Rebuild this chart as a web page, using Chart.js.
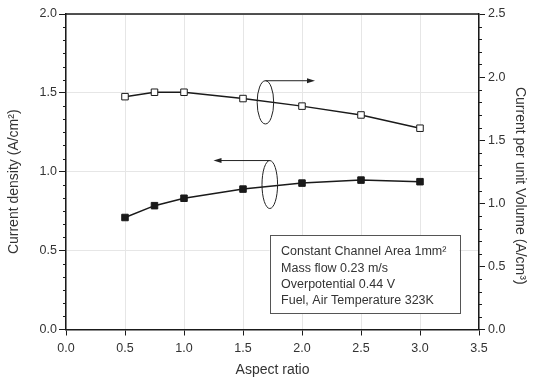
<!DOCTYPE html>
<html>
<head>
<meta charset="utf-8">
<script src="https://cdn.jsdelivr.net/npm/chart.js@4.4.1/dist/chart.umd.min.js"></script>
<style>
  html, body { margin: 0; padding: 0; background: #fff; }
  #chart { display: block; }
</style>
</head>
<body>
<canvas id="chart" width="535" height="379"></canvas>
<script>
const aspectRatios = [0.5, 0.75, 1.0, 1.5, 2.0, 2.5, 3.0];
const currentDensity = [0.71, 0.785, 0.832, 0.89, 0.928, 0.947, 0.937];
const currentPerVolume = [1.845, 1.88, 1.88, 1.83, 1.77, 1.70, 1.595];

const xTickValues = [0, 0.5, 1.0, 1.5, 2.0, 2.5, 3.0, 3.5];
const leftTickValues = [0, 0.5, 1.0, 1.5, 2.0];
const rightTickValues = [0, 0.5, 1.0, 1.5, 2.0, 2.5];

const noteLines = [
  "Constant Channel Area 1mm\u00B2",
  "Mass flow 0.23 m/s",
  "Overpotential 0.44 V",
  "Fuel, Air Temperature 323K"
];

// ellipse + arrow markers, in data units (x axis / left axis)
const ellipseMarks = [
  { x: 1.69, y: 1.44, rx: 0.07, ry: 0.137, arrowTo: 2.11 },
  { x: 1.727, y: 0.919, rx: 0.066, ry: 0.152, arrowTo: 1.25 }
];
const noteBox = { x0: 1.725, x1: 3.333, yTop: 0.597, yBottom: 0.104 };

const FONT = "'Liberation Sans', Arial, sans-serif";
const INK = "#1a1a1a";
const TEXT = "#333";

Chart.defaults.font.family = FONT;
Chart.defaults.color = TEXT;

function toPoints(xs, ys) {
  return xs.map((x, i) => ({ x, y: ys[i] }));
}

function setTicks(values) {
  return (scale) => {
    scale.ticks = values.map((v) => ({ value: v }));
  };
}

const frameAndExtras = {
  id: "frameAndExtras",
  afterDraw(chart) {
    const { ctx, chartArea: area, scales } = chart;
    const xs = scales.x;
    const yl = scales.y;
    const yr = scales.y1;

    ctx.save();

    // top border
    ctx.strokeStyle = INK;
    ctx.lineWidth = 1.5;
    ctx.beginPath();
    ctx.moveTo(area.left, area.top);
    ctx.lineTo(area.right, area.top);
    ctx.stroke();

    // minor ticks
    ctx.lineWidth = 1;
    ctx.beginPath();
    for (let k = 1; k < 24; k++) {
      if (k % 6 === 0) continue;
      const py = Math.round(yl.getPixelForValue(k / 12)) + 0.5;
      ctx.moveTo(area.left - 3, py);
      ctx.lineTo(area.left, py);
    }
    for (let k = 1; k < 25; k++) {
      if (k % 5 === 0) continue;
      const py = Math.round(yr.getPixelForValue(k / 10)) + 0.5;
      ctx.moveTo(area.right, py);
      ctx.lineTo(area.right + 3, py);
    }
    ctx.stroke();

    // ellipses with arrows
    ctx.strokeStyle = "#222";
    ctx.fillStyle = "#222";
    ctx.lineWidth = 1;
    ellipseMarks.forEach((m) => {
      const cx = xs.getPixelForValue(m.x);
      const cy = yl.getPixelForValue(m.y);
      const rx = Math.abs(xs.getPixelForValue(m.x + m.rx) - cx);
      const ry = Math.abs(yl.getPixelForValue(m.y + m.ry) - cy);
      ctx.beginPath();
      ctx.ellipse(cx, cy, rx, ry, 0, 0, Math.PI * 2);
      ctx.stroke();

      const ay = cy - ry;
      const tip = xs.getPixelForValue(m.arrowTo);
      const dir = tip > cx ? 1 : -1;
      ctx.beginPath();
      ctx.moveTo(cx, ay);
      ctx.lineTo(tip - dir * 6, ay);
      ctx.stroke();
      ctx.beginPath();
      ctx.moveTo(tip, ay);
      ctx.lineTo(tip - dir * 8, ay - 2.5);
      ctx.lineTo(tip - dir * 8, ay + 2.5);
      ctx.closePath();
      ctx.fill();
    });

    // note box
    const bx0 = xs.getPixelForValue(noteBox.x0);
    const bx1 = xs.getPixelForValue(noteBox.x1);
    const by0 = yl.getPixelForValue(noteBox.yTop);
    const by1 = yl.getPixelForValue(noteBox.yBottom);
    ctx.fillStyle = "#fff";
    ctx.fillRect(bx0, by0, bx1 - bx0, by1 - by0);
    ctx.strokeStyle = "#555";
    ctx.strokeRect(Math.round(bx0) + 0.5, Math.round(by0) + 0.5, Math.round(bx1 - bx0), Math.round(by1 - by0));
    ctx.fillStyle = TEXT;
    ctx.font = "12.5px " + FONT;
    ctx.textAlign = "left";
    ctx.textBaseline = "middle";
    noteLines.forEach((line, i) => {
      ctx.fillText(line, bx0 + 11.5, by0 + 16.5 + i * 16.3);
    });

    // y axis titles
    ctx.font = "14px " + FONT;
    ctx.textAlign = "center";
    const midY = (area.top + area.bottom) / 2;
    ctx.save();
    ctx.translate(area.left - 52, midY + 10);
    ctx.rotate(-Math.PI / 2);
    ctx.fillText("Current density (A/cm\u00B2)", 0, 0);
    ctx.restore();
    ctx.save();
    ctx.translate(area.right + 41, midY + 14);
    ctx.rotate(Math.PI / 2);
    ctx.fillText("Current per unit Volume (A/cm\u00B3)", 0, 0);
    ctx.restore();

    ctx.restore();
  }
};

new Chart(document.getElementById("chart"), {
  type: "line",
  data: {
    datasets: [
      {
        label: "Current per unit Volume",
        data: toPoints(aspectRatios, currentPerVolume),
        yAxisID: "y1",
        borderColor: INK,
        borderWidth: 1.5,
        pointStyle: "rect",
        pointRadius: 4.6,
        pointBorderWidth: 1,
        pointBackgroundColor: "#fff",
        pointBorderColor: INK,
        tension: 0
      },
      {
        label: "Current density",
        data: toPoints(aspectRatios, currentDensity),
        yAxisID: "y",
        borderColor: INK,
        borderWidth: 1.5,
        pointStyle: "rect",
        pointRadius: 4.6,
        pointBorderWidth: 1,
        pointBackgroundColor: INK,
        pointBorderColor: INK,
        tension: 0
      }
    ]
  },
  options: {
    responsive: false,
    animation: false,
    devicePixelRatio: 1,
    layout: { padding: { top: 14, left: 0, right: 0, bottom: 0 } },
    plugins: {
      legend: { display: false },
      tooltip: { enabled: false }
    },
    scales: {
      x: {
        type: "linear",
        position: "bottom",
        min: 0,
        max: 3.5,
        afterBuildTicks: setTicks(xTickValues),
        afterFit: (scale) => { scale.height = 49.5; },
        ticks: {
          font: { size: 12.5 },
          color: TEXT,
          padding: 6,
          callback: (v) => v.toFixed(1)
        },
        grid: {
          color: "#e6e6e6",
          tickColor: INK,
          tickLength: 6,
          tickWidth: 1
        },
        border: { color: INK, width: 1.5 },
        title: {
          display: true,
          text: "Aspect ratio",
          font: { size: 14 },
          color: TEXT,
          padding: { top: 0, bottom: 0 }
        }
      },
      y: {
        type: "linear",
        position: "left",
        min: 0,
        max: 2,
        afterBuildTicks: setTicks(leftTickValues),
        afterFit: (scale) => { scale.width = 66; },
        ticks: {
          font: { size: 12.5 },
          color: TEXT,
          padding: 2,
          callback: (v) => v.toFixed(1)
        },
        grid: {
          color: "#e6e6e6",
          tickColor: INK,
          tickLength: 7,
          tickWidth: 1
        },
        border: { color: INK, width: 1.5 }
      },
      y1: {
        type: "linear",
        position: "right",
        min: 0,
        max: 2.5,
        afterBuildTicks: setTicks(rightTickValues),
        afterFit: (scale) => { scale.width = 56; },
        ticks: {
          font: { size: 12.5 },
          color: TEXT,
          padding: 3,
          callback: (v) => v.toFixed(1)
        },
        grid: {
          drawOnChartArea: false,
          tickColor: INK,
          tickLength: 6,
          tickWidth: 1
        },
        border: { color: INK, width: 1.5 }
      }
    }
  },
  plugins: [frameAndExtras]
});
</script>
</body>
</html>
